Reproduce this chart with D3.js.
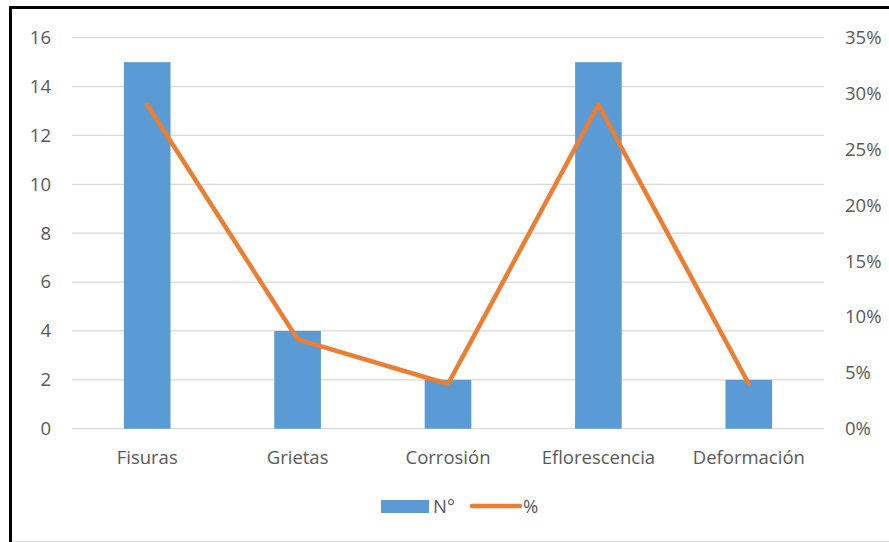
<!DOCTYPE html>
<html><head><meta charset="utf-8">
<script src="https://cdn.jsdelivr.net/npm/d3@7"></script>
<style>body{margin:0;background:#fff}svg{display:block}</style>
</head><body>
<svg id="c" width="889" height="542"></svg>
<script>
const categories = ["Fisuras","Grietas","Corrosión","Eflorescencia","Deformación"];
const counts = [15,4,2,15,2];
const percents = [0.29,0.08,0.04,0.29,0.04];
const leftTicks = [0,2,4,6,8,10,12,14,16];
const rightTicks = [0,0.05,0.10,0.15,0.20,0.25,0.30,0.35];
const seriesNames = ["N°","%"];

const svg = d3.select("#c");
const font = "'Open Sans', sans-serif";
const fs = 18.5;
const txt = "#595959";
const m = {l:72, r:824, t:37.7, b:428.7};

svg.append("rect").attr("x",0).attr("y",0).attr("width",889).attr("height",542).attr("fill","#fff");
svg.append("line").attr("x1",10.5).attr("x2",889).attr("y1",7.5).attr("y2",7.5).attr("stroke","#000").attr("stroke-width",3);
svg.append("line").attr("x1",10.5).attr("x2",10.5).attr("y1",6).attr("y2",542).attr("stroke","#000").attr("stroke-width",3);
svg.append("line").attr("x1",12).attr("x2",889).attr("y1",541.5).attr("y2",541.5).attr("stroke","#d9d9d9").attr("stroke-width",1);

const x = d3.scaleBand().domain(categories).range([m.l,m.r]).paddingInner(0.69).paddingOuter(0.345);
const xc = d3.scaleBand().domain(categories).range([m.l,m.r]);
const y = d3.scaleLinear().domain([0,16]).range([m.b,m.t]);
const y2 = d3.scaleLinear().domain([0,0.35]).range([m.b,m.t]);

svg.append("g").selectAll("line").data(leftTicks).join("line")
  .attr("x1",m.l).attr("x2",m.r).attr("y1",d=>y(d)).attr("y2",d=>y(d))
  .attr("stroke","#d9d9d9").attr("stroke-width",1.3);

const la = svg.append("g").attr("transform",`translate(${m.l},0)`)
  .call(d3.axisLeft(y).tickValues(leftTicks).tickSize(0).tickPadding(21));
la.select(".domain").remove();
la.selectAll("text").attr("font-family",font).attr("font-size",fs).attr("fill",txt);

const ra = svg.append("g").attr("transform",`translate(${m.r},0)`)
  .call(d3.axisRight(y2).tickValues(rightTicks).tickFormat(d3.format(".0%")).tickSize(0).tickPadding(21));
ra.select(".domain").remove();
ra.selectAll("text").attr("font-family",font).attr("font-size",fs).attr("fill",txt);

svg.append("g").selectAll("rect").data(categories).join("rect")
  .attr("x",d=>x(d)).attr("width",x.bandwidth())
  .attr("y",(d,i)=>y(counts[i])).attr("height",(d,i)=>y(0)-y(counts[i]))
  .attr("fill","#5B9BD5");

svg.append("g").selectAll("text").data(categories).join("text")
  .attr("x",d=>xc(d)+xc.bandwidth()/2).attr("y",464)
  .attr("text-anchor","middle").attr("font-family",font).attr("font-size",fs).attr("fill",txt)
  .text(d=>d);

const line = d3.line().x((d,i)=>xc(categories[i])+xc.bandwidth()/2).y(d=>y2(d));
svg.append("path").datum(percents).attr("d",line).attr("fill","none")
  .attr("stroke","#ED7D31").attr("stroke-width",4.5).attr("stroke-linecap","round").attr("stroke-linejoin","round");

const lg = svg.append("g");
lg.append("rect").attr("x",381).attr("y",500).attr("width",48).attr("height",13).attr("fill","#5B9BD5");
lg.append("text").attr("x",433).attr("y",513).attr("font-family",font).attr("font-size",fs).attr("fill",txt).text(seriesNames[0]);
lg.append("line").attr("x1",472).attr("x2",520).attr("y1",506).attr("y2",506).attr("stroke","#ED7D31").attr("stroke-width",4.5).attr("stroke-linecap","round");
lg.append("text").attr("x",523).attr("y",513).attr("font-family",font).attr("font-size",fs).attr("fill",txt).text(seriesNames[1]);
</script>
</body></html>
